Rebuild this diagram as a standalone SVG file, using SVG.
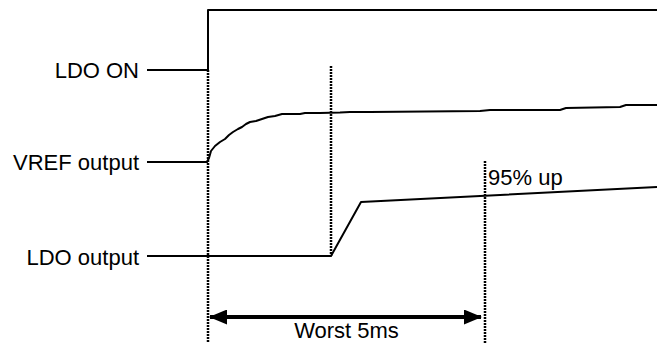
<svg xmlns="http://www.w3.org/2000/svg" width="657" height="343" viewBox="0 0 657 343">
<defs>
<style>
.lbl{font-family:"Liberation Sans",Arial,sans-serif;font-size:22px;fill:#000}
.sig{fill:none;stroke:#000;stroke-width:2;stroke-linejoin:round}
.dot{fill:none;stroke:#000;stroke-width:2.5;stroke-dasharray:2,1}
</style>
<marker id="ah" viewBox="0 0 18 15" refX="17" refY="7.5" markerWidth="18" markerHeight="15" markerUnits="userSpaceOnUse" orient="auto-start-reverse">
<path d="M0,0 L18,7.5 L0,15 Z" fill="#000"/>
</marker>
</defs>
<rect width="657" height="343" fill="#fff"/>
<g id="ldo-on">
<text class="lbl" x="139" y="78" text-anchor="end">LDO ON</text>
<path class="sig" d="M147,70 H208 V10 H657"/>
</g>
<g id="vref-output">
<text class="lbl" x="139" y="170" text-anchor="end">VREF output</text>
<path class="sig" d="M147,162 L207,162 L209,158 L211,151 L215,146 L220,142 L225,139 L229,135 L233,132 L238,129 L242,127 L246,124 L250,122 L256,121 L262,119 L268,117 L275,116 L282,114 L300,114 L305,113 L320,113 L340,112.5 L350,112 L370,112 L480,111 L490,110 L560,110 L566,108 L620,107 L626,105 L657,105"/>
</g>
<g id="ldo-output">
<text class="lbl" x="139" y="265" text-anchor="end">LDO output</text>
<path class="sig" d="M147,256 L331,256 L361,202 L657,187"/>
</g>
<g id="markers">
<line class="dot" x1="208" y1="70" x2="208" y2="343"/>
<line class="dot" x1="331" y1="66" x2="331" y2="256"/>
<line class="dot" x1="485" y1="161" x2="485" y2="343"/>
<text class="lbl" x="488" y="185">95% up</text>
</g>
<g id="connectors">
<line x1="210" y1="317" x2="481" y2="317" stroke="#000" stroke-width="4" marker-start="url(#ah)" marker-end="url(#ah)"/>
<text class="lbl" x="346.5" y="338" text-anchor="middle">Worst 5ms</text>
</g>
</svg>
